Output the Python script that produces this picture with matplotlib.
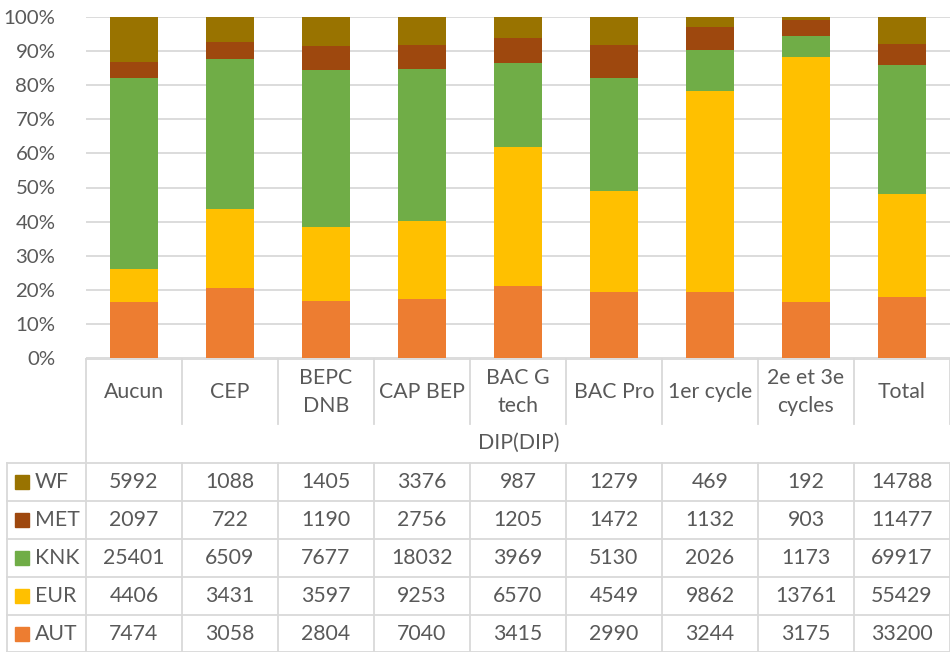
"""Excel-style 100% stacked bar chart with data table (DIP)."""
import numpy as np, matplotlib
matplotlib.use("Agg"); import matplotlib.pyplot as plt
from matplotlib.transforms import blended_transform_factory
from matplotlib.lines import Line2D
from matplotlib.patches import Rectangle

categories = ["Aucun", "CEP", "BEPC\nDNB", "CAP BEP", "BAC G\ntech", "BAC Pro", "1er cycle", "2e et 3e\ncycles", "Total"]
series = ["AUT", "EUR", "KNK", "MET", "WF"]  # bottom -> top
AUT = [7474, 3058, 2804, 7040, 3415, 2990, 3244, 3175, 33200]
EUR = [4406, 3431, 3597, 9253, 6570, 4549, 9862, 13761, 55429]
KNK = [25401, 6509, 7677, 18032, 3969, 5130, 2026, 1173, 69917]
MET = [2097, 722, 1190, 2756, 1205, 1472, 1132, 903, 11477]
WF = [5992, 1088, 1405, 3376, 987, 1279, 469, 192, 14788]
colors = {"AUT": "#ED7D31", "EUR": "#FFC000", "KNK": "#70AD47", "MET": "#9E480E", "WF": "#997300"}
values = {"AUT": AUT, "EUR": EUR, "KNK": KNK, "MET": MET, "WF": WF}

W, H = 950, 652
TXT = "#595959"; GRID = "#D9D9D9"; FS = 15.3
plt.rcParams['font.family'] = ['Lato', 'DejaVu Sans']

fig = plt.figure(figsize=(W/100, H/100), dpi=100)
def fx(x): return x / W
def fy(y): return 1 - y / H

ax = fig.add_axes([fx(86), fy(358), fx(950) - fx(86), fy(17) - fy(358)])
x = np.arange(len(categories))
tot = np.sum([values[s] for s in series], axis=0)
bottom = np.zeros(len(categories))
for s in series:
    pct = np.array(values[s]) / tot * 100
    ax.bar(x, pct, 0.51, bottom=bottom, color=colors[s], zorder=2)
    bottom += pct
ax.set_xlim(-0.5, len(categories) - 0.5); ax.set_ylim(0, 100)
ax.set_yticks(range(0, 101, 10))
ax.set_yticklabels([f"{v}%" for v in range(0, 101, 10)], color=TXT, fontsize=FS - 0.6)
ax.tick_params(axis='y', length=0, pad=22); ax.set_xticks([])
ax.grid(axis='y', color=GRID, lw=1.3, zorder=0)
for sp in ax.spines.values(): sp.set_visible(False)

# table / category label grid
def hline(y, x0, x1):
    fig.add_artist(Line2D([fx(x0), fx(x1)], [fy(y), fy(y)], color=GRID, lw=1.3))
def vline(x, y0, y1):
    fig.add_artist(Line2D([fx(x), fx(x)], [fy(y0), fy(y1)], color=GRID, lw=1.3))

bx = [86 + i * (950 - 86) / len(categories) for i in range(len(categories) + 1)]
rows = [463, 501, 539, 577, 615, 652]
hline(359, 86, 950)
for i, b in enumerate(bx):
    if i == 0:
        vline(b, 359, 652)
    else:
        vline(b, 359, 424); vline(b, 463, 652)
for r in rows:
    hline(r, 7, 950)
vline(7, 463, 652)

tr = blended_transform_factory(ax.transData, fig.transFigure)
for i, c in enumerate(categories):
    fig.text(i, fy(392), c, transform=tr, ha='center', va='center', color=TXT,
             fontsize=FS, linespacing=1.55)
fig.text(fx(519), fy(443), "DIP(DIP)", ha='center', va='center', color=TXT, fontsize=FS)

for k, s in enumerate(series[::-1]):
    yc = (rows[k] + rows[k + 1]) / 2
    fig.add_artist(Rectangle((fx(15), fy(yc + 7)), fx(14), fy(0) - fy(14), color=colors[s]))
    fig.text(fx(35), fy(yc), s, ha='left', va='center', color=TXT, fontsize=FS)
    for i, v in enumerate(values[s]):
        fig.text(i, fy(yc), str(v), transform=tr, ha='center', va='center', color=TXT, fontsize=FS)

fig.savefig("out.png", dpi=100)
